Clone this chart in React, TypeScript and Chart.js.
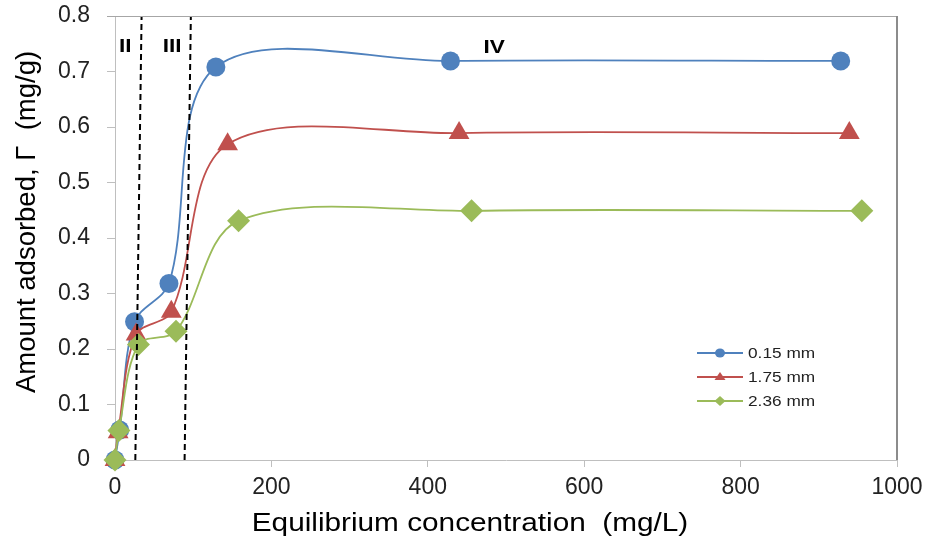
import React, { useEffect, useRef } from "react";
import { Chart, registerables } from "chart.js";

Chart.register(...registerables);

const seriesNames = ["0.15 mm", "1.75 mm", "2.36 mm"];
const seriesColors = ["#4F81BD", "#C0504D", "#9BBB59"];
const seriesShapes = ["circle", "triangle", "rectRot"];

const x015 = [0, 6, 25, 69, 129, 429, 928];
const y015 = [0, 0.054, 0.249, 0.318, 0.708, 0.719, 0.719];
const x175 = [0, 4, 27, 72, 144, 440, 939];
const y175 = [0, 0.05, 0.226, 0.267, 0.569, 0.589, 0.589];
const x236 = [0, 5, 30, 78, 158, 456, 955];
const y236 = [0, 0.053, 0.208, 0.232, 0.431, 0.449, 0.449];

const boundary1X = [26, 34];
const boundary2X = [89, 97];
const boundaryY = [0, 0.8];

const regionLabels = ["II", "III", "IV"];
const regionLabelX = [13, 73, 485];
const regionLabelY = [0.745, 0.745, 0.743];

const xTitle = "Equilibrium concentration  (mg/L)";
const yTitle = "Amount adsorbed, Γ  (mg/g)";

const FONT = "'Liberation Sans', Arial, sans-serif";
const STRETCH = 1.19;

const pts = (xs: number[], ys: number[]) => xs.map((x, i) => ({ x, y: ys[i] }));

function stretchedText(ctx: any, text: string, x: number, y: number, align: string) {
  ctx.save();
  ctx.translate(x, y);
  ctx.scale(STRETCH, 1);
  ctx.textAlign = align;
  ctx.fillText(text, 0, 0);
  ctx.restore();
}

const overlayPlugin = {
  id: "overlay",
  afterDraw(chart: any) {
    const { ctx, chartArea, scales } = chart;
    const xs = scales.x;
    const ys = scales.y;
    ctx.save();
    // plot border top & right
    ctx.strokeStyle = "#a6a6a6";
    ctx.lineWidth = 1;
    ctx.beginPath();
    ctx.moveTo(chartArea.left - 8, chartArea.top + 0.5);
    ctx.lineTo(chartArea.right, chartArea.top + 0.5);
    ctx.stroke();
    ctx.strokeStyle = "#8c8c8c";
    ctx.lineWidth = 2;
    ctx.beginPath();
    ctx.moveTo(chartArea.right, chartArea.top);
    ctx.lineTo(chartArea.right, chartArea.bottom);
    ctx.stroke();

    // region labels
    ctx.fillStyle = "#000";
    ctx.font = `bold 19px ${FONT}`;
    ctx.textBaseline = "middle";
    regionLabels.forEach((t, i) => {
      stretchedText(ctx, t, xs.getPixelForValue(regionLabelX[i]), ys.getPixelForValue(regionLabelY[i]), "center");
    });

    // x title
    ctx.font = `25px ${FONT}`;
    ctx.fillStyle = "#000";
    ctx.textBaseline = "middle";
    stretchedText(ctx, xTitle, 470, 524, "center");

    // y title
    ctx.save();
    ctx.font = `27.5px ${FONT}`;
    ctx.fillStyle = "#000";
    ctx.translate(27, 222);
    ctx.rotate(-Math.PI / 2);
    ctx.textAlign = "center";
    ctx.textBaseline = "middle";
    ctx.fillText(yTitle, 0, 0);
    ctx.restore();

    // legend
    const lx0 = 697;
    const lx1 = 743;
    const rows = [353, 377, 401];
    ctx.font = `14.5px ${FONT}`;
    ctx.textBaseline = "middle";
    seriesNames.forEach((name, i) => {
      const y = rows[i];
      ctx.strokeStyle = seriesColors[i];
      ctx.lineWidth = 2;
      ctx.beginPath();
      ctx.moveTo(lx0, y);
      ctx.lineTo(lx1, y);
      ctx.stroke();
      ctx.fillStyle = seriesColors[i];
      const cx = (lx0 + lx1) / 2;
      ctx.beginPath();
      if (seriesShapes[i] === "circle") {
        ctx.ellipse(cx, y, 5, 4.5, 0, 0, Math.PI * 2);
      } else if (seriesShapes[i] === "triangle") {
        ctx.moveTo(cx, y - 5);
        ctx.lineTo(cx + 5.5, y + 3);
        ctx.lineTo(cx - 5.5, y + 3);
        ctx.closePath();
      } else {
        ctx.moveTo(cx, y - 5);
        ctx.lineTo(cx + 5.5, y);
        ctx.lineTo(cx, y + 5);
        ctx.lineTo(cx - 5.5, y);
        ctx.closePath();
      }
      ctx.fill();
      ctx.fillStyle = "#222";
      stretchedText(ctx, name, lx1 + 5, y + 1, "left");
    });
    ctx.restore();
  },
};

export default function App() {
  const ref = useRef<HTMLCanvasElement | null>(null);
  useEffect(() => {
    document.body.style.margin = "0";
    const canvas = ref.current!;
    const mk = (i: number, xs: number[], ys: number[], r: number) => ({
      label: seriesNames[i],
      data: pts(xs, ys),
      borderColor: seriesColors[i],
      backgroundColor: seriesColors[i],
      pointStyle: seriesShapes[i],
      pointRadius: r,
      pointBorderWidth: 0,
      borderWidth: 1.8,
      tension: 0.33,
      showLine: true,
      clip: false as any,
    });
    const dashed = (xs: number[]) => ({
      label: "_b",
      data: pts(xs, boundaryY),
      borderColor: "#000",
      borderWidth: 2,
      borderDash: [6, 4],
      pointRadius: 0,
      showLine: true,
      tension: 0,
    });
    const chart = new Chart(canvas, {
      type: "scatter",
      data: {
        datasets: [
          dashed(boundary1X),
          dashed(boundary2X),
          mk(2, x236, y236, 11.5),
          mk(1, x175, y175, 12),
          mk(0, x015, y015, 9.5),
        ] as any,
      },
      options: {
        animation: false,
        responsive: false,
        layout: { padding: { top: 16, right: 34, left: 0, bottom: 0 } },
        plugins: { legend: { display: false }, tooltip: { enabled: false } },
        scales: {
          x: {
            type: "linear",
            min: 0,
            max: 1000,
            afterFit: (s: any) => {
              s.height = 84;
              s.paddingLeft = 0;
              s.paddingRight = 0;
            },
            ticks: {
              stepSize: 200,
              font: { size: 23, family: FONT },
              color: "#222",
              padding: 7,
              callback: (v: any) => String(v),
            },
            grid: { drawOnChartArea: false, drawTicks: true, tickLength: 7, color: "#bfbfbf" },
            border: { color: "#bfbfbf", width: 1 },
          },
          y: {
            type: "linear",
            min: 0,
            max: 0.8,
            afterFit: (s: any) => {
              s.width = 115;
              s.paddingTop = 0;
              s.paddingBottom = 0;
            },
            ticks: {
              stepSize: 0.1,
              font: { size: 23, family: FONT },
              color: "#222",
              padding: 17,
              callback: (v: any) => (Number(v) === 0 ? "0" : Number(v).toFixed(1)),
            },
            grid: { drawOnChartArea: false, drawTicks: true, tickLength: 8, color: "#bfbfbf" },
            border: { color: "#bfbfbf", width: 1 },
          },
        },
      },
      plugins: [overlayPlugin],
    });
    return () => chart.destroy();
  }, []);
  return <canvas ref={ref} width={931} height={544} style={{ display: "block" }} />;
}
